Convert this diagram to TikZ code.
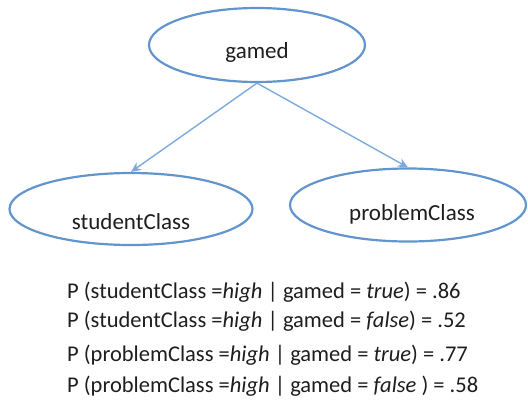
\documentclass[tikz,border=0pt]{standalone}
\usepackage{fontspec}
\setmainfont{Carlito}
\usetikzlibrary{shapes.geometric,arrows.meta}
\definecolor{edgeblue}{RGB}{98,148,205}
\definecolor{arrowblue}{RGB}{125,170,220}
\definecolor{inkgray}{RGB}{30,30,30}
\begin{document}
\begin{tikzpicture}[x=1pt,y=-1pt,
  var/.style={ellipse,draw=edgeblue,line width=2.2pt,fill=white},
  varname/.style={text=inkgray,font=\fontsize{23}{27}\selectfont},
  prob/.style={anchor=west,text=inkgray,inner sep=0pt,font=\fontsize{22.5}{26}\selectfont},
  link/.style={arrowblue,line width=1.4pt,-{Stealth[length=10pt,width=9pt]}}]
\useasboundingbox (0,0) rectangle (528,405);

% network
\node[var,minimum width=216pt,minimum height=74pt] (gamed) at (257,45) {};
\node[var,minimum width=243pt,minimum height=72pt] (student) at (131,209) {};
\node[var,minimum width=236pt,minimum height=73pt] (problem) at (408,205) {};
\node[varname] (gamedlbl) at (257,52) {gamed};
\node[varname] (studentlbl) at (131,222) {studentClass};
\node[varname] (problemlbl) at (412,214) {problemClass};
\draw[link] (gamed.south) -- (student.north);
\draw[link] (gamed.south) -- (problem.north);

% conditional probabilities
\node[prob] (p1) at (67,292) {P (studentClass =\textit{high} | gamed = \textit{true}) = .86};
\node[prob] (p2) at (67,321) {P (studentClass =\textit{high} | gamed = \textit{false}) = .52};
\node[prob] (p3) at (67,355) {P (problemClass =\textit{high} | gamed = \textit{true}) = .77};
\node[prob] (p4) at (67,386) {P (problemClass =\textit{high} | gamed = \textit{false} ) = .58};
\end{tikzpicture}
\end{document}
